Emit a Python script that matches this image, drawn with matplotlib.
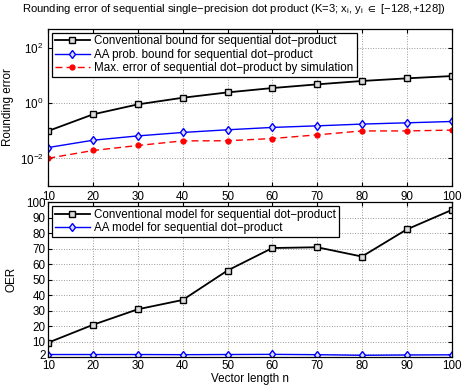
import matplotlib.pyplot as plt
import numpy as np

plt.rcParams['font.family'] = ['Liberation Sans', 'DejaVu Sans']
plt.rcParams['mathtext.fontset'] = 'custom'
plt.rcParams['mathtext.rm'] = 'Liberation Sans'
plt.rcParams['mathtext.it'] = 'Liberation Sans'
plt.rcParams['mathtext.fallback'] = 'stixsans'

# data
n = [10, 20, 30, 40, 50, 60, 70, 80, 90, 100]
conv_bound = [0.1, 0.4, 0.92, 1.6, 2.5, 3.6, 4.9, 6.5, 8.1, 9.8]
aa_bound = [0.025, 0.046, 0.066, 0.088, 0.11, 0.134, 0.153, 0.177, 0.197, 0.22]
sim_max = [0.0102, 0.0195, 0.0296, 0.0435, 0.044, 0.053, 0.072, 0.1, 0.1, 0.107]
oer_conv = [9.5, 21, 31, 37, 56, 70.5, 71, 65, 82.5, 95]
oer_aa = [1.8, 1.8, 1.8, 1.7, 1.8, 1.9, 1.7, 1.3, 1.5, 1.6]

fs = 8.4
fig = plt.figure(figsize=(4.67, 3.9), dpi=100)
ax1 = fig.add_axes([0.1034, 0.523, 0.8636, 0.4026])
ax2 = fig.add_axes([0.1034, 0.0838, 0.8636, 0.3975])

grid_kw = dict(color='#999999', linestyle=':', linewidth=0.7)

# upper panel
ax1.semilogy(n, conv_bound, '-s', color='black', lw=1.3, ms=4,
             mfc='#dddddd', mec='black', mew=1.0,
             label='Conventional bound for sequential dot\u2212product')
ax1.semilogy(n, aa_bound, '-d', color='blue', lw=1.0, ms=4.5,
             mfc='#ddddff', mec='blue', mew=1.0,
             label='AA prob. bound for sequential dot\u2212product')
ax1.semilogy(n, sim_max, '--o', color='red', lw=1.0, ms=3.5,
             mfc='red', mec='red', dashes=(5, 3),
             label='Max. error of sequential dot\u2212product by simulation')
ax1.set_xlim(10, 100)
ax1.set_ylim(1e-3, 5e2)
ax1.set_yticks([1e-2, 1e0, 1e2])
ax1.yaxis.set_minor_locator(plt.NullLocator())
ax1.set_xticks(n)
ax1.grid(True, **grid_kw)
ax1.tick_params(direction='in', labelsize=fs, length=3, top=True, right=True)
ax1.set_ylabel('Rounding error', fontsize=fs)
ax1.set_title('Rounding error of sequential single\u2212precision dot product '
              '(K=3; x$_\\mathregular{i}$, y$_\\mathregular{i}$ $\\in$ [\u2212128,+128])',
              fontsize=8.1, pad=12, x=0.46)
leg1 = ax1.legend(loc='upper left', fontsize=fs, handlelength=3.0,
                  borderaxespad=0.3, borderpad=0.25, labelspacing=0.1,
                  handletextpad=0.4, fancybox=False, framealpha=1)
leg1.get_frame().set_edgecolor('black')
leg1.get_frame().set_linewidth(0.9)

# lower panel
ax2.plot(n, oer_conv, '-s', color='black', lw=1.3, ms=4,
         mfc='#dddddd', mec='black', mew=1.0,
         label='Conventional model for sequential dot\u2212product')
ax2.plot(n, oer_aa, '-d', color='blue', lw=1.0, ms=4.5,
         mfc='#ddddff', mec='blue', mew=1.0,
         label='AA model for sequential dot\u2212product')
ax2.set_xlim(10, 100)
ax2.set_ylim(0, 100)
ax2.set_yticks([2, 10, 20, 30, 40, 50, 60, 70, 80, 90, 100])
ax2.set_xticks(n)
ax2.grid(True, **grid_kw)
ax2.tick_params(direction='in', labelsize=fs, length=3, top=True, right=True, pad=2)
ax2.set_ylabel('OER', fontsize=fs, labelpad=6)
ax2.set_xlabel('Vector length n', fontsize=fs, labelpad=1)
leg2 = ax2.legend(loc='upper left', fontsize=fs, handlelength=3.0,
                  borderaxespad=0.3, borderpad=0.25, labelspacing=0.1,
                  handletextpad=0.4, fancybox=False, framealpha=1)
leg2.get_frame().set_edgecolor('black')
leg2.get_frame().set_linewidth(0.9)

for ax in (ax1, ax2):
    for s in ax.spines.values():
        s.set_linewidth(0.9)

fig.savefig('out.png', dpi=100)
